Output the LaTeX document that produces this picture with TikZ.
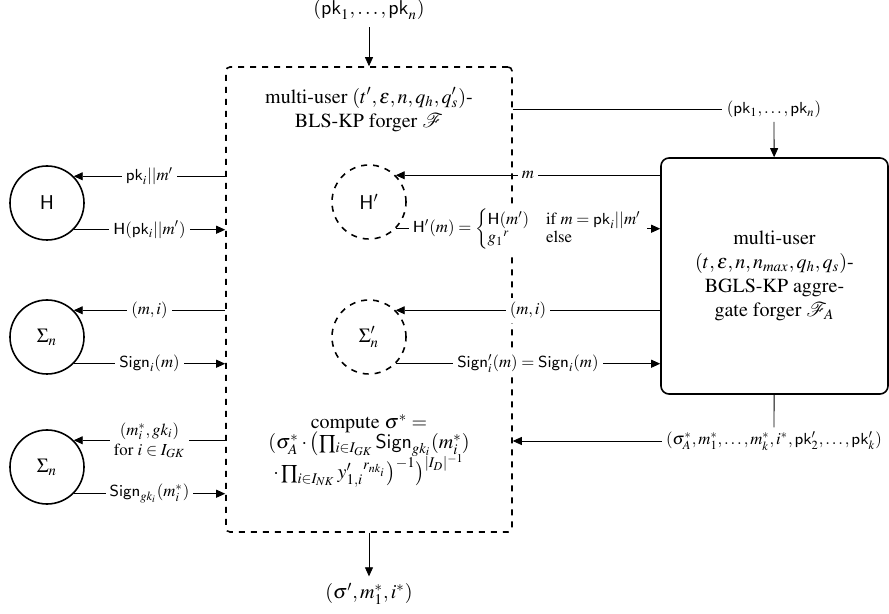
\documentclass[tikz,border=0pt]{standalone}
\usepackage[T1]{fontenc}
\usepackage{amsmath}
\usepackage{mathptmx}
\usepackage[scaled=0.92]{helvet}
\usepackage{mathrsfs}
\usetikzlibrary{arrows.meta}

\begin{document}
\begin{tikzpicture}[x=0.5pt, y=-0.5pt, >={Triangle[length=4.5pt, width=4pt]},
        oracle/.style={draw, circle, thick, minimum size=37pt, inner sep=0pt},
        simoracle/.style={oracle, dashed},
        msg/.style={fill=white, inner sep=2pt, font=\fontsize{8.4}{10}\selectfont}]

        \useasboundingbox (0,0) rectangle (889,614);

        \node[draw, thick, dashed, rounded corners=2pt, minimum width=143pt, minimum height=232.5pt] (forger) at (369,299.5) {};
        \node[align=center] (title) at (369,109.5) {multi-user $(t',\epsilon,n,q_h,q'_s)$-\\BLS-KP forger $\mathscr{F}$};

        \node[draw, thick, rounded corners=4pt, minimum width=113.5pt, minimum height=118pt, align=center] (aggr) at (774.5,276) {multi-user\\$(t,\epsilon,n,n_{max},q_h,q_s)$-\\BGLS-KP aggre-\\gate forger $\mathscr{F}_A$};

        \node (pkin) at (369,10) {$(\mathsf{pk}_1,\ldots,\mathsf{pk}_n)$};
        \node (out) at (369,594) {$(\sigma',m_1^*,i^*)$};

        \node[oracle] (H) at (47,203) {$\mathsf{H}$};
        \node[oracle] (S1) at (47,337) {$\Sigma_n$};
        \node[oracle] (S2) at (47,467) {$\Sigma_n$};

        \node[simoracle] (Hp) at (369,202) {$\mathsf{H}'$};
        \node[simoracle] (Sp) at (369,337) {$\Sigma'_n$};

        \node[msg] (pkA) at (774,109) {$(\mathsf{pk}_1,\ldots,\mathsf{pk}_n)$};
        \node[msg] (forgery) at (774,441) {$(\sigma_A^*,m_1^*,\ldots,m_k^*,i^*,\mathsf{pk}'_2,\ldots,\mathsf{pk}'_k)$};

        \node[align=center] (comp) at (369,451) {compute $\sigma^* =$\\[-2pt]$(\sigma_A^*\cdot\bigl(\prod_{i\in I_{GK}}\mathsf{Sign}_{gk_i}(m_i^*)$\\[-2pt]$\cdot\prod_{i\in I_{NK}}{y'_{1,i}}^{r_{nk_i}}\bigr)^{-1}\bigr)^{|I_D|^{-1}}$};

        % Draw edges of the challenger
        \draw[->] (pkin) -- (forger);
        \draw[->] (forger) -- (out);

        % Draw edges between forger and the real oracles
        \draw[->] (H.45 -| forger.west) -- (H.45) node[msg, midway] {$\mathsf{pk}_i||m'$};
        \draw[->] (H.-45) -- (H.-45 -| forger.west) node[msg, midway] {$\mathsf{H}(\mathsf{pk}_i||m')$};
        \draw[->] (S1.45 -| forger.west) -- (S1.45) node[msg, midway] {$(m,i)$};
        \draw[->] (S1.-45) -- (S1.-45 -| forger.west) node[msg, midway] {$\mathsf{Sign}_i(m)$};
        \draw[->] (S2.45 -| forger.west) -- (S2.45) node[msg, midway, align=center] {$(m_i^*,gk_i)$\\for $i\in I_{GK}$};
        \draw[->] (S2.-45) -- (S2.-45 -| forger.west) node[msg, midway] {$\mathsf{Sign}_{gk_i}(m_i^*)$};

        % Draw edges between the aggregate forger and the simulated oracles
        \draw[->] (Hp.45 -| aggr.west) -- (Hp.45) node[msg, midway] {$m$};
        \draw[->] (Hp.-45) -- (Hp.-45 -| aggr.west) node[msg, midway] {$\mathsf{H}'(m)=\begin{cases}\mathsf{H}(m') & \text{if } m=\mathsf{pk}_i||m'\\[-3pt] {g_1}^r & \text{else}\end{cases}$};
        \draw[->] (Sp.45 -| aggr.west) -- (Sp.45) node[msg, midway] {$(m,i)$};
        \draw[->] (Sp.-45) -- (Sp.-45 -| aggr.west) node[msg, midway] {$\mathsf{Sign}'_i(m)=\mathsf{Sign}_i(m)$};

        % Draw edges between forger and aggregate forger
        \draw (forger.east |- pkA) -- (pkA);
        \draw[->] (pkA) -- (aggr);
        \draw (aggr) -- (forgery);
        \draw[->] (forgery) -- (forgery -| forger.east);

    \end{tikzpicture}
\end{document}
